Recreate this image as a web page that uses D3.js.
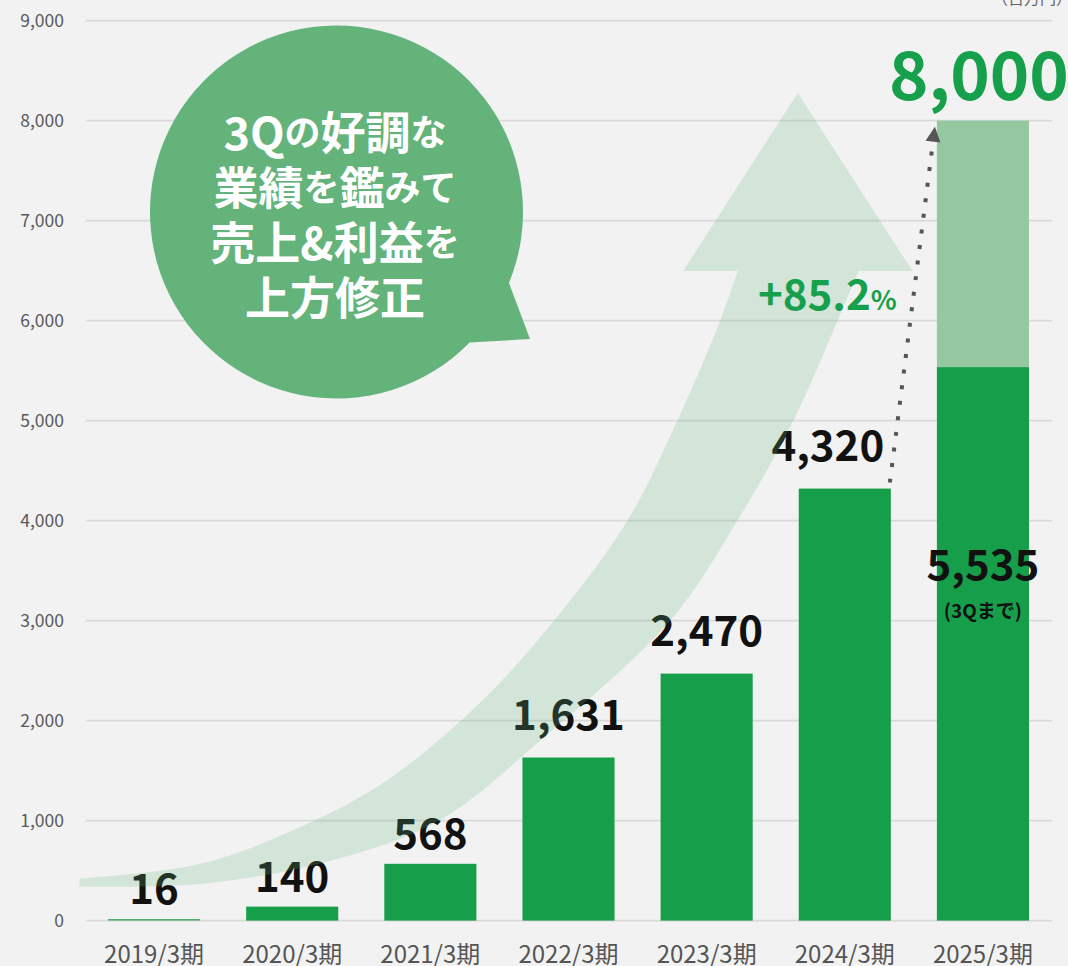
<!DOCTYPE html>
<html>
<head>
<meta charset="utf-8">
<script src="https://cdn.jsdelivr.net/npm/d3@7"></script>
<style>
  html, body { margin: 0; padding: 0; background: #f2f2f2; }
  svg { display: block; font-family: "Noto Sans CJK JP", "Noto Sans", sans-serif; }
</style>
</head>
<body>
<svg class="chart" width="1068" height="966"></svg>
<script>
//------------------------------------------------------------------------------
//Data
//------------------------------------------------------------------------------
let years = ["2019/3期", "2020/3期", "2021/3期", "2022/3期", "2023/3期", "2024/3期", "2025/3期"];
let sales = [16, 140, 568, 1631, 2470, 4320, 5535];
let forecast = [null, null, null, null, null, null, 8000];
let yTicks = [0, 1000, 2000, 3000, 4000, 5000, 6000, 7000, 8000, 9000];
let growthText = "+85.2";
let unitText = "（百万円）";
let bubbleLines = [
    [["3Q", 1], ["の", 0], ["好調", 1], ["な", 0]],
    [["業績", 1], ["を", 0], ["鑑", 1], ["みて", 0]],
    [["売上&利益", 1], ["を", 0]],
    [["上方修正", 1]]
];
// decorative growth arrow, in (category index, value) units
let arrowUpper = [[-0.54, 420], [0.33, 566], [1.06, 936], [1.69, 1406], [2.38, 2206], [2.94, 3076], [3.43, 4006], [3.79, 5006], [4.1, 6006], [4.225, 6496]];
let arrowHead = [[3.83, 6496], [4.66, 8276], [5.49, 6496]];
let arrowLower = [[5.1, 6496], [4.95, 6006], [4.63, 5006], [4.225, 4006], [3.74, 3006], [2.8, 1806], [2.07, 1006], [1.3, 606], [0.33, 366], [-0.54, 340]];

main()

//------------------------------------------------------------------------------
//Main
//------------------------------------------------------------------------------
function main()
{
    var svg = d3.select(".chart");
    var green = "#169e4a", lightGreen = "#95c7a1", textGreen = "#17a04b";

    var x = d3.scaleBand().domain(years).range([85, 1052]).paddingInner(1 / 3).paddingOuter(1 / 6);
    var y = d3.scaleLinear().domain([0, 9000]).range([920.6, 20.6]);
    var xi = d3.scaleLinear().domain([0, 6]).range([x(years[0]) + x.bandwidth() / 2, x(years[6]) + x.bandwidth() / 2]);

    // grid
    svg.append("g").selectAll("line").data(yTicks).enter().append("line")
        .attr("x1", 86).attr("x2", 1052)
        .attr("y1", d => y(d)).attr("y2", d => y(d))
        .attr("stroke", "#d9d9d9").attr("stroke-width", 1.6);

    // y axis labels
    svg.append("g").selectAll("text").data(yTicks).enter().append("text")
        .attr("x", 64).attr("y", d => y(d))
        .attr("dy", "0.35em")
        .attr("text-anchor", "end")
        .attr("font-size", 17.5).attr("fill", "#595959")
        .text(d => d3.format(",")(d));

    // x axis labels
    svg.append("g").selectAll("text").data(years).enter().append("text")
        .attr("x", d => x(d) + x.bandwidth() / 2).attr("y", 963)
        .attr("text-anchor", "middle")
        .attr("font-size", 24).attr("fill", "#555")
        .text(d => d);

    // forecast (light) bar
    svg.append("g").selectAll("rect").data(forecast.map((v, i) => ({ year: years[i], v: v, s: sales[i] })).filter(d => d.v != null))
        .enter().append("rect")
        .attr("x", d => x(d.year)).attr("width", x.bandwidth())
        .attr("y", d => y(d.v)).attr("height", d => y(d.s) - y(d.v))
        .attr("fill", lightGreen);

    // sales bars
    svg.append("g").selectAll("rect").data(sales).enter().append("rect")
        .attr("x", (d, i) => x(years[i])).attr("width", x.bandwidth())
        .attr("y", d => y(d)).attr("height", d => y(0) - y(d))
        .attr("fill", (d, i) => i == 0 ? "#4fae6e" : green);

    // value labels
    var last = sales.length - 1;
    svg.append("g").selectAll("text").data(sales).enter().append("text")
        .attr("x", (d, i) => x(years[i]) + x.bandwidth() / 2 - (i == 5 ? 17 : 0))
        .attr("y", (d, i) => i == last ? 580 : y(d) - (d < 1000 ? 15 : 28))
        .attr("text-anchor", "middle")
        .attr("font-size", 42).attr("font-weight", 700).attr("fill", "#111")
        .text(d => d3.format(",")(d));
    svg.append("text")
        .attr("x", x(years[last]) + x.bandwidth() / 2).attr("y", 618)
        .attr("text-anchor", "middle")
        .attr("font-size", 19).attr("font-weight", 700).attr("fill", "#111")
        .text("(3Qまで)");

    // growth arrow
    var lineFn = d3.line().x(d => xi(d[0])).y(d => y(d[1])).curve(d3.curveCatmullRom);
    var p = lineFn(arrowUpper)
        + arrowHead.map(d => "L" + xi(d[0]) + "," + y(d[1])).join("")
        + lineFn(arrowLower).replace(/^M/, "L") + "Z";
    svg.append("path").attr("d", p)
        .attr("fill", "rgb(100,178,123)").attr("fill-opacity", 0.22);

    // dotted arrow 2024 -> 2025 forecast
    var x0 = x(years[5]) + x.bandwidth() - 1, y0 = y(sales[5]) - 6;
    var x1 = x(years[6]) - 4, y1 = y(forecast[6]) + 22;
    svg.append("line")
        .attr("x1", x0).attr("y1", y0).attr("x2", x1).attr("y2", y1)
        .attr("stroke", "#555").attr("stroke-width", 4)
        .attr("stroke-dasharray", "4 11.7");
    var ang = Math.atan2(y1 - y0, x1 - x0);
    var tip = [x1 + Math.cos(ang) * 16, y1 + Math.sin(ang) * 16];
    var nx = -Math.sin(ang) * 7.5, ny = Math.cos(ang) * 7.5;
    var bx = x1 + Math.cos(ang) * 1, by = y1 + Math.sin(ang) * 1;
    svg.append("path")
        .attr("d", "M" + tip + "L" + (bx + nx) + "," + (by + ny) + "L" + (bx - nx) + "," + (by - ny) + "Z")
        .attr("fill", "#555");

    // 8,000 forecast label
    svg.append("text")
        .attr("x", x(years[last]) + x.bandwidth() / 2 - 4).attr("y", 100)
        .attr("text-anchor", "middle")
        .attr("font-size", 67).attr("font-weight", 700).attr("fill", textGreen)
        .text(d3.format(",")(forecast[last]));

    // growth rate
    var g = svg.append("text")
        .attr("x", 758).attr("y", 310)
        .attr("font-weight", 700).attr("fill", textGreen);
    g.append("tspan").attr("font-size", 42).text(growthText);
    g.append("tspan").attr("font-size", 27).text("%");

    // unit
    svg.append("text")
        .attr("x", 992).attr("y", 4)
        .attr("font-size", 16).attr("fill", "#666")
        .text(unitText);

    // speech bubble
    var cx = 336.5, cy = 212, r = 186.5;
    var bubble = d3.path();
    var a1 = Math.atan2(283 - cy, 509 - cx), a2 = Math.atan2(343 - cy, 470 - cx);
    bubble.arc(cx, cy, r, a2, a1 + 2 * Math.PI);
    bubble.lineTo(530, 339);
    bubble.closePath();
    svg.append("path").attr("d", bubble.toString()).attr("fill", "#64b37b");

    var bt = svg.append("g").attr("font-weight", 700).attr("fill", "#fff");
    bubbleLines.forEach(function(parts, i) {
        var t = bt.append("text")
            .attr("x", 335).attr("y", 130 + i * 55)
            .attr("dominant-baseline", "central")
            .attr("text-anchor", "middle");
        parts.forEach(function(pt) {
            t.append("tspan").attr("font-size", pt[1] ? 45 : 36).text(pt[0]);
        });
    });
}
</script>
</body>
</html>
